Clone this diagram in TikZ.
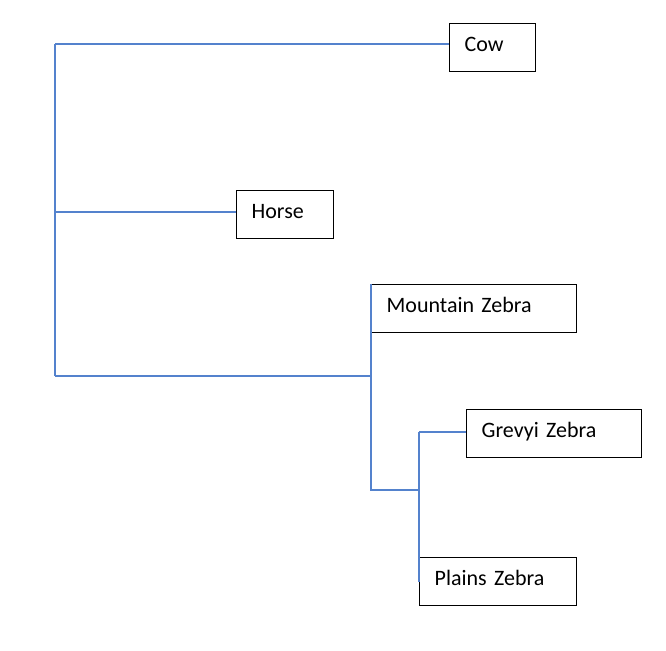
\documentclass[tikz,border=0pt]{standalone}
\usepackage{fontspec}
\setmainfont{Carlito}
\usepackage{tikz}
\usetikzlibrary{positioning,calc}
\definecolor{branchblue}{RGB}{84,130,205}

\begin{document}
\begin{tikzpicture}[
    x=1pt, y=-1pt,
    taxon/.style={rectangle, draw=black, line width=1.3pt, anchor=north west,
      minimum height=48, inner xsep=15, inner ysep=0, align=left,
      text height=16pt, text depth=8pt,
      font=\fontsize{22}{24}\selectfont},
    branch/.style={draw=branchblue, line width=1.6pt}
  ]
  \useasboundingbox (0,0) rectangle (666,650);

  %% Taxa
  \node[taxon, text width=56]  (cow)    at (449,23)  {Cow};
  \node[taxon, text width=67]  (horse)  at (236,190) {Horse};
  \node[taxon, text width=175] (mtn)    at (371,284) {Mountain Zebra};
  \node[taxon, text width=145] (grevyi) at (466,409) {Grevyi Zebra};
  \node[taxon, text width=127] (plains) at (419,557) {Plains Zebra};

  %% Branch points
  \coordinate (cowjoin)    at (55,44);
  \coordinate (horsejoin)  at (55,212);
  \coordinate (zebrajoin)  at (55,376);
  \coordinate (zebrasplit) at (371,490);
  \coordinate (grevyijoin) at (419,432);
  \coordinate (plainsjoin) at (419,490);

  %% Main trunk
  \draw[branch] (cowjoin) -- (zebrajoin);
  \draw[branch] (cowjoin) -- (cowjoin -| cow.west);
  \draw[branch] (horsejoin) -- (horsejoin -| horse.west);
  \draw[branch] (zebrajoin) -- (zebrajoin -| mtn.west);

  %% Zebra clade
  \draw[branch] (mtn.north west) -- (zebrasplit) -- (plainsjoin);
  \draw[branch] (grevyijoin) -- ($(plains.north west)!0.5!(plains.south west)$);
  \draw[branch] (grevyijoin) -- (grevyijoin -| grevyi.west);

\end{tikzpicture}
\end{document}
